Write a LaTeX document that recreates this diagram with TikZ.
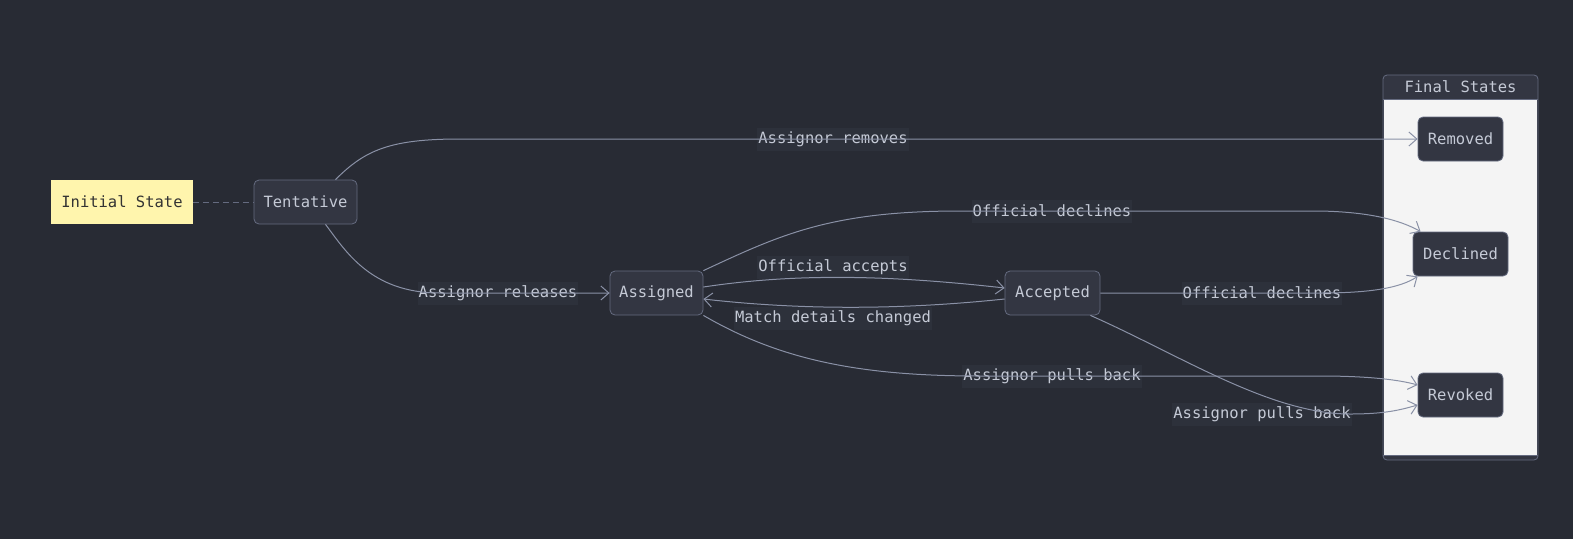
\documentclass[tikz,border=0pt]{standalone}
\usepackage{fontspec}
\setmonofont{DejaVu Sans Mono}
\usetikzlibrary{arrows.meta,calc}
\definecolor{bg}{HTML}{282B34}
\definecolor{nodefill}{HTML}{333642}
\definecolor{nodeborder}{HTML}{656B80}
\definecolor{txt}{HTML}{C5CAD6}
\definecolor{edgec}{HTML}{8A91A6}
\definecolor{lblbg}{HTML}{2D313B}
\definecolor{yel}{HTML}{FFF5AD}
\definecolor{clbody}{HTML}{F4F4F4}
\definecolor{darktxt}{HTML}{333333}
\begin{document}
\begin{tikzpicture}[x=1pt,y=-1pt,
  font=\ttfamily\fontsize{15.5}{18}\selectfont,
  state/.style={draw=nodeborder, fill=nodefill, rounded corners=5pt, text=txt,
    minimum height=44pt, inner xsep=4pt, line width=0.8pt},
  initbox/.style={fill=yel, text=darktxt, minimum height=44pt, minimum width=142pt},
  lbl/.style={fill=lblbg, text=txt, inner xsep=1pt, inner ysep=0pt, minimum height=23pt},
  edge/.style={draw=edgec, line width=1pt, -{Straight Barb[length=8pt,width=14pt]}},
  dashedge/.style={draw=nodeborder, line width=1pt, dash pattern=on 6pt off 4pt}
]
\useasboundingbox (0,0) rectangle (1573,539);
\fill[bg] (0,0) rectangle (1573,539);

% cluster
\fill[nodefill, rounded corners=4pt] (1383,75) rectangle (1538,460);
\fill[clbody] (1384,99) rectangle (1537,455);
\draw[nodeborder, line width=0.8pt, rounded corners=4pt] (1383,75) rectangle (1538,460);
\draw[nodeborder, line width=0.8pt] (1383,99) -- (1538,99);
\draw[nodeborder, line width=0.8pt] (1383,455) -- (1538,455);
\node[text=txt] (cltitle) at (1460.5,87) {Final States};

% nodes
\node[initbox] (init) at (122,202) {Initial State};
\node[state, minimum width=103pt] (tent) at (305.5,202) {Tentative};
\node[state, minimum width=93pt] (asg) at (656.5,293) {Assigned};
\node[state, minimum width=95pt] (acc) at (1052.5,293) {Accepted};
\node[state, minimum width=85pt] (rem) at (1460.5,139) {Removed};
\node[state, minimum width=95pt] (dec) at (1460.5,254) {Declined};
\node[state, minimum width=85pt] (rev) at (1460.5,395) {Revoked};

% labels (drawn below the connectors)
\node[lbl] (l1) at (833,139) {Assignor removes};
\node[lbl] (l2) at (498,293) {Assignor releases};
\node[lbl] (l3) at (1052,211) {Official declines};
\node[lbl] (l4) at (833,267) {Official accepts};
\node[lbl] (l5) at (833,318) {Match details changed};
\node[lbl] (l6) at (1262,293) {Official declines};
\node[lbl] (l7) at (1052,376) {Assignor pulls back};
\node[lbl] (l8) at (1262,414) {Assignor pulls back};

% edges
\draw[dashedge] (init.east) -- (tent.west);
\draw[edge] ($(tent.north)+(30,0)$) .. controls (365,150) and (390,139) .. (460,139) -- (rem.west);
\draw[edge] ($(tent.south)+(20,0)$) .. controls (345,250) and (370,293) .. (440,293) -- (asg.west);
\draw[edge] (asg.north east) .. controls (780,235) and (830,211) .. (960,211) -- (1320,211)
   .. controls (1370,212) and (1400,220) .. ($(dec.north west)+(8,0)$);
\draw[edge] ($(asg.east)+(0,-6)$) .. controls (790,274) and (880,274) .. ($(acc.west)+(0,-5)$);
\draw[edge] ($(acc.west)+(0,6)$) .. controls (900,310) and (800,310) .. ($(asg.east)+(0,6)$);
\draw[edge] (acc.east) -- (1320,293) .. controls (1370,293) and (1400,288) .. ($(dec.south west)+(5,0)$);
\draw[edge] (asg.south east) .. controls (780,360) and (860,376) .. (980,376) -- (1320,376)
   .. controls (1370,376) and (1400,380) .. ($(rev.west)+(0,-10)$);
\draw[edge] ($(acc.south east)+(-10,0)$) .. controls (1180,355) and (1270,414) .. (1350,414)
   .. controls (1385,414) and (1400,410) .. ($(rev.west)+(0,10)$);
\end{tikzpicture}
\end{document}
